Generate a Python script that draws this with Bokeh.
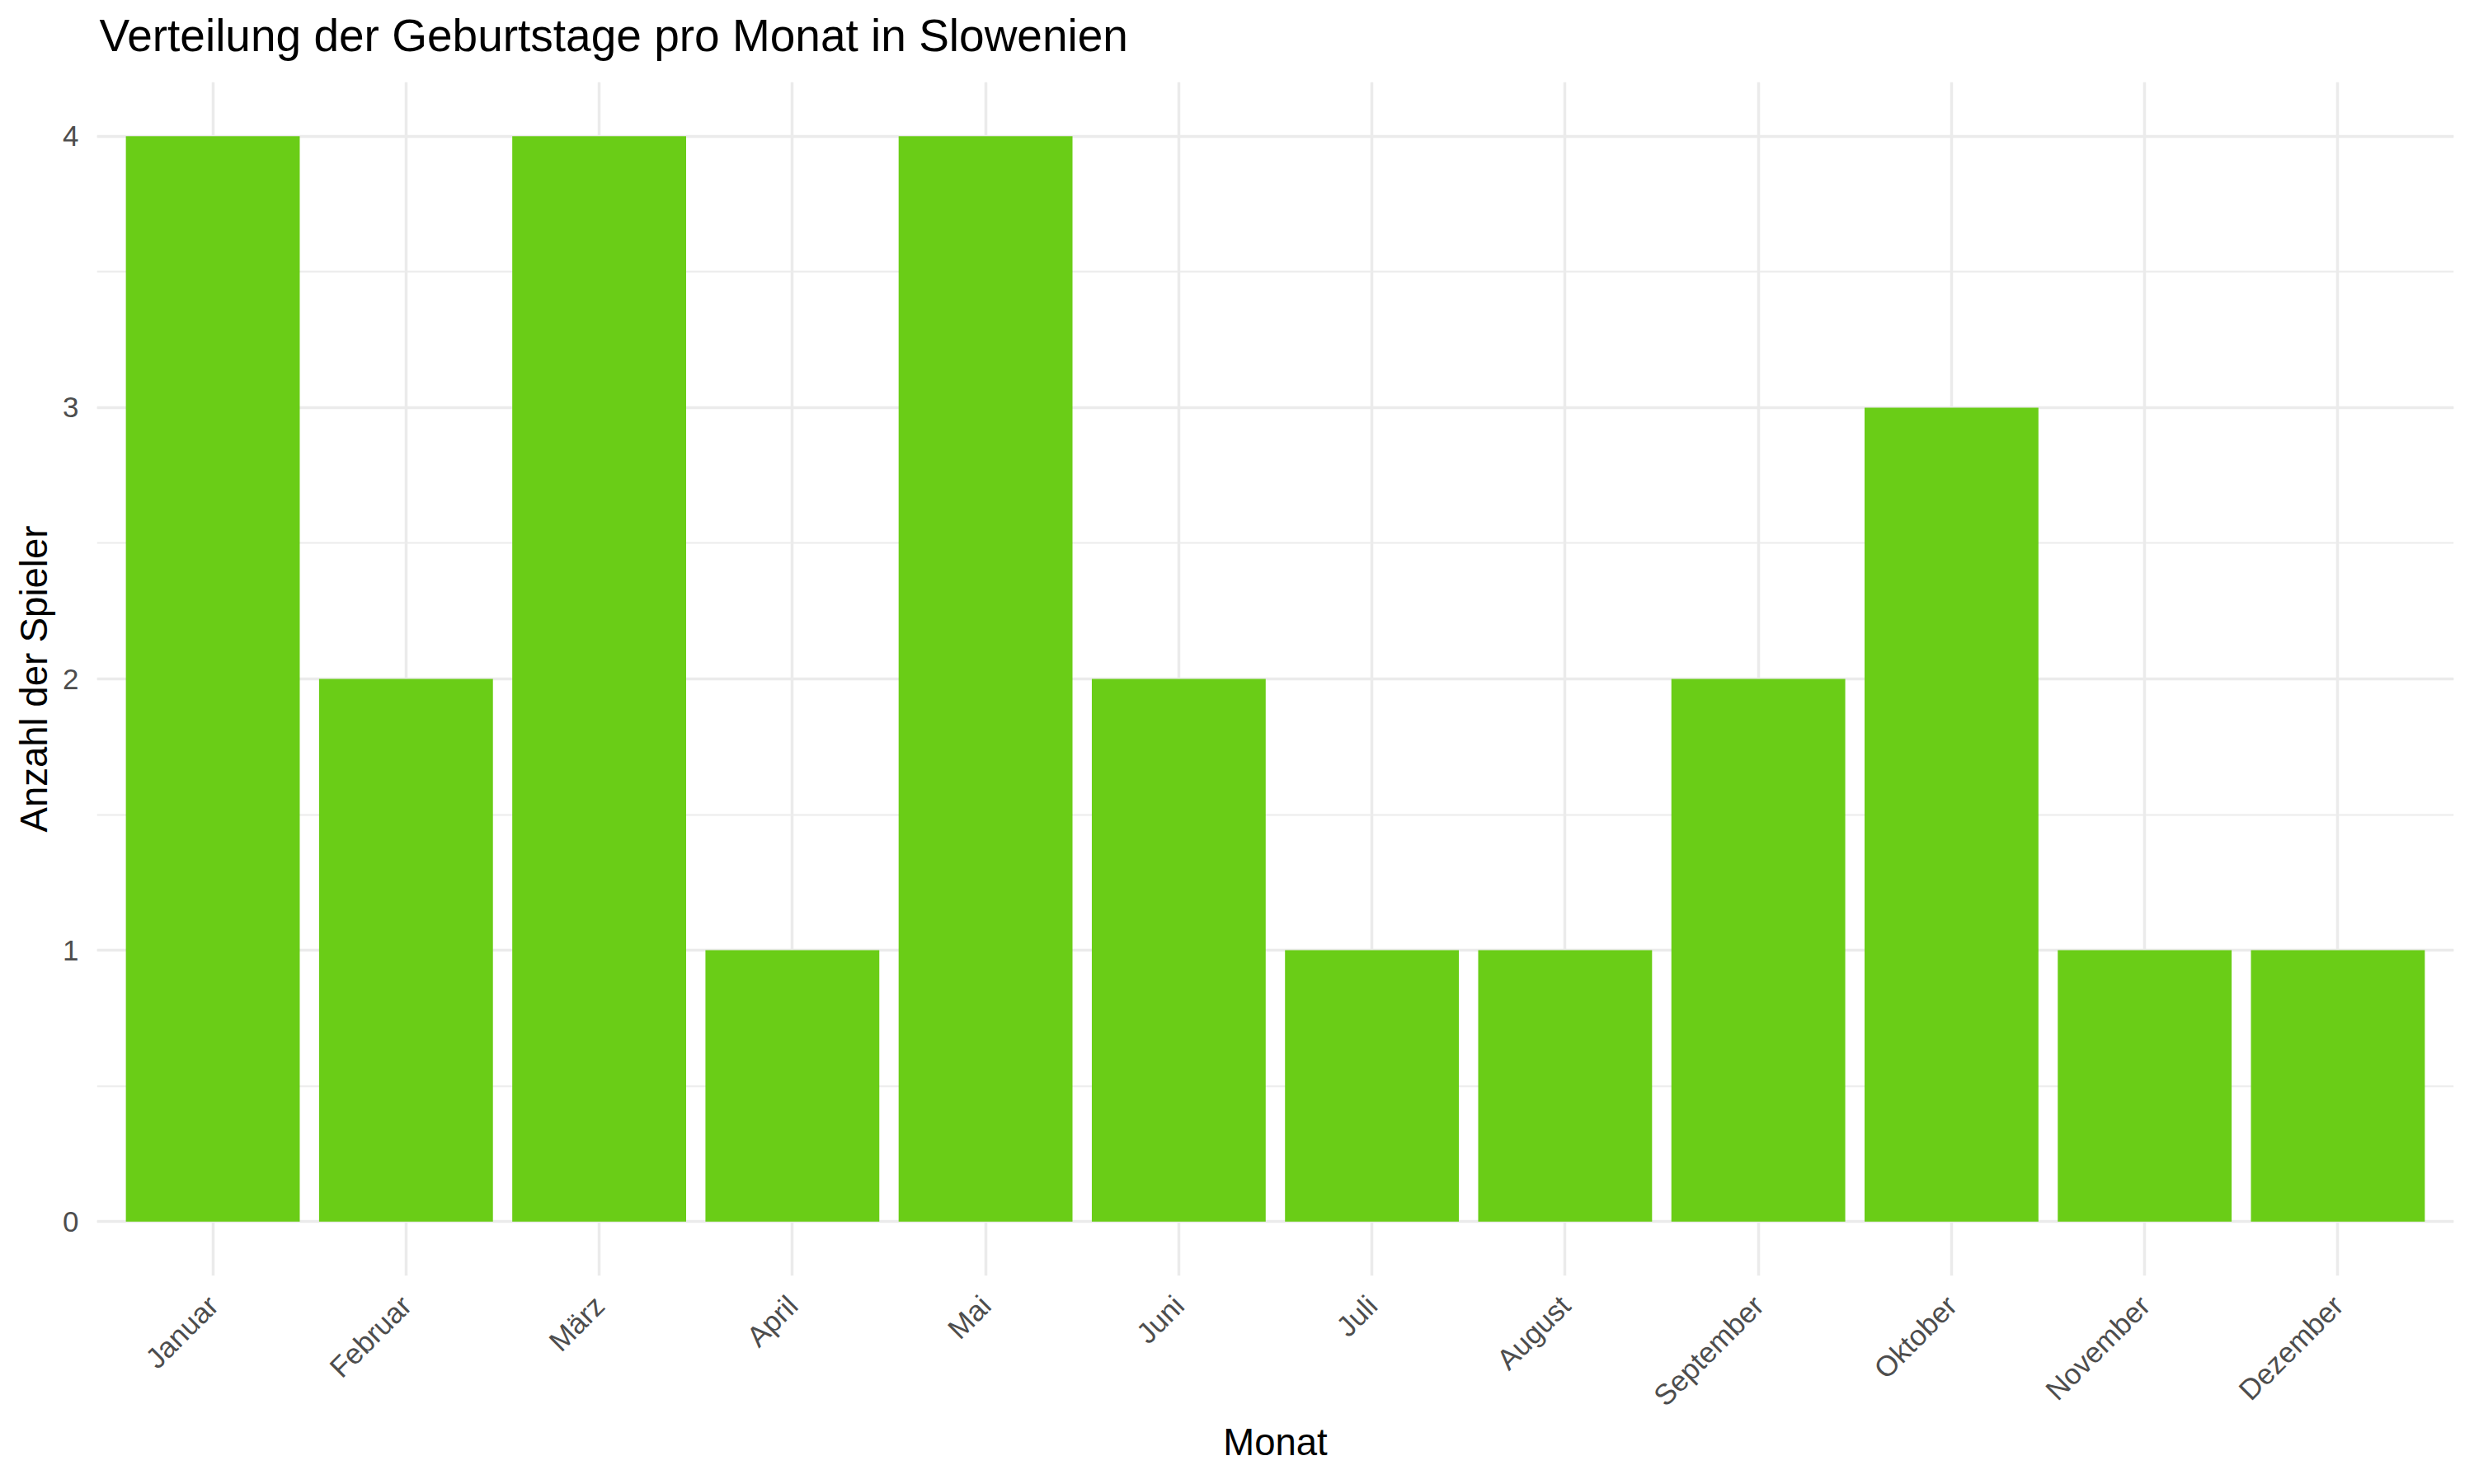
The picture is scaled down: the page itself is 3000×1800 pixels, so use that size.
import math
from bokeh.plotting import figure
from bokeh.models import FactorRange, Range1d, SingleIntervalTicker
from bokeh.embed import file_html
from bokeh.resources import INLINE

months = ["Januar", "Februar", "März", "April", "Mai", "Juni", "Juli",
          "August", "September", "Oktober", "November", "Dezember"]
counts = [4, 2, 4, 1, 4, 2, 1, 1, 2, 3, 1, 1]
title_text = "Verteilung der Geburtstage pro Monat in Slowenien"

FONT = "Liberation Sans"
GRID = "#EBEBEB"

p = figure(
    width=2984, height=1799,
    x_range=FactorRange(factors=months, range_padding=0.1, range_padding_units="absolute"),
    y_range=Range1d(-0.2, 4.2),
    output_backend="svg", toolbar_location=None,
    title=title_text,
)
p.styles = {"margin-top": "-17px"}
p.vbar(x=months, top=counts, width=0.9, fill_color="#6ACD17", line_color=None)

p.min_border_left = 117
p.min_border_right = 9
p.min_border_top = 112
p.min_border_bottom = 235
p.outline_line_color = None
p.background_fill_color = "white"
p.border_fill_color = "white"

p.title.text_font = FONT
p.title.text_font_size = "55px"
p.title.text_font_style = "normal"
p.title.text_color = "black"
p.title.offset = 3
p.title.standoff = 52

ticker = SingleIntervalTicker(interval=1, num_minor_ticks=2)
p.yaxis.ticker = ticker
p.ygrid.ticker = ticker

for ax in (p.xaxis[0], p.yaxis[0]):
    ax.axis_line_color = None
    ax.major_tick_line_color = None
    ax.minor_tick_line_color = None
    ax.major_tick_out = 0
    ax.major_tick_in = 0
    ax.major_label_text_font = FONT
    ax.major_label_text_font_size = "35px"
    ax.major_label_text_color = "#4D4D4D"
    ax.axis_label_text_font = FONT
    ax.axis_label_text_font_size = "45.5px"
    ax.axis_label_text_font_style = "normal"
    ax.axis_label_text_color = "black"

p.xaxis.axis_label = "Monat"
p.yaxis.axis_label = "Anzahl der Spieler"
p.xaxis.major_label_orientation = math.pi / 4
p.xaxis.major_label_standoff = 30
p.yaxis.major_label_standoff = 18
p.xaxis.axis_label_standoff = -5
p.yaxis.axis_label_standoff = 6

p.xgrid.grid_line_color = GRID
p.xgrid.grid_line_width = 3.5
p.ygrid.grid_line_color = GRID
p.ygrid.grid_line_width = 3.5
p.ygrid.minor_grid_line_color = GRID
p.ygrid.minor_grid_line_width = 2

open("out.html", "w").write(file_html(p, INLINE))
